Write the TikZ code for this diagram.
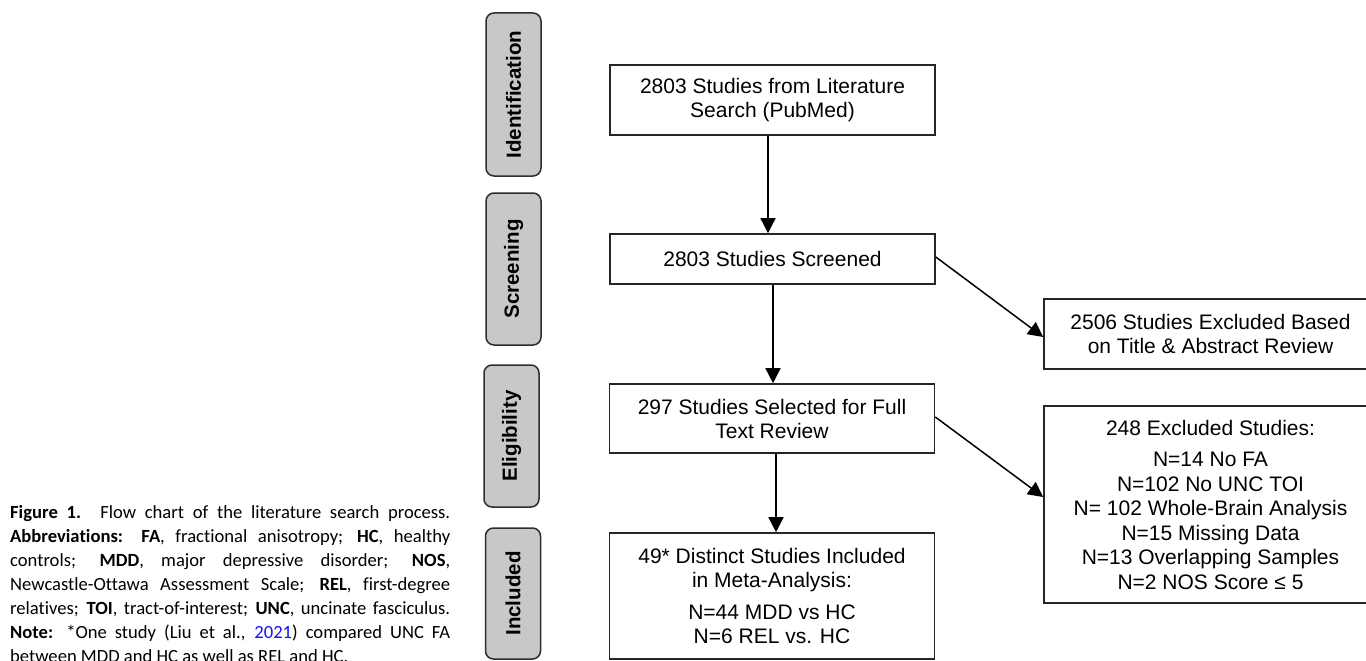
\documentclass[tikz,border=0pt]{standalone}
\usepackage{fontspec}
\setmainfont{Liberation Sans}
\newfontfamily\capfont[Ligatures={NoCommon}]{Carlito}
\usetikzlibrary{arrows.meta}
\definecolor{sidegray}{RGB}{200,200,200}
\definecolor{sideedge}{RGB}{45,45,45}
\definecolor{linkblue}{RGB}{20,20,240}
\tikzset{
  stagebox/.style={draw=sideedge, fill=sidegray, line width=1.5pt, rounded corners=8pt,
    rotate=90, minimum height=55pt, inner sep=0pt, font=\fontsize{20.5}{22}\selectfont\bfseries},
  flowbox/.style={draw=black!85, line width=1.6pt, minimum width=325pt, inner sep=0pt,
    align=center, font=\fontsize{21}{24}\selectfont},
  sidebox/.style={draw=black!85, line width=1.6pt, minimum width=333pt, inner sep=0pt,
    align=center, font=\fontsize{21}{24.5}\selectfont},
  flowarrow/.style={line width=1.5pt, -{Triangle[length=15pt,width=15pt]}},
}
\begin{document}
\begin{tikzpicture}[x=1pt,y=-1pt]
\useasboundingbox (0,0) rectangle (1366,661);
% stage labels
\node[stagebox, minimum width=163pt] (sid) at (513.5,94.5) {Identification};
\node[stagebox, minimum width=152pt] (sscr) at (513.5,269) {Screening};
\node[stagebox, minimum width=142pt] (selg) at (511.5,436) {Eligibility};
\node[stagebox, minimum width=131pt] (sinc) at (513,593.5) {Included};
% main boxes
\node[flowbox, minimum height=70pt] (b1) at (772.5,100) {2803 Studies from Literature\\Search (PubMed)};
\node[flowbox, minimum height=50pt] (b2) at (772.5,259) {2803 Studies Screened};
\node[flowbox, minimum height=69pt] (b3) at (772,418.5) {297 Studies Selected for Full\\Text Review};
\node[flowbox, minimum height=126pt] (b4) at (772,596) {49* Distinct Studies Included\\in Meta-Analysis:\\[8pt]N=44 MDD vs HC\\N=6 REL vs. HC};
% side boxes
\node[sidebox, minimum height=70pt] (r1) at (1210.5,334) {2506 Studies Excluded Based\\on Title \& Abstract Review};
\node[sidebox, minimum height=197pt] (r2) at (1210.5,504.5) {248 Excluded Studies:\\[7pt]N=14 No FA\\N=102 No UNC TOI\\N= 102 Whole-Brain Analysis\\N=15 Missing Data\\N=13 Overlapping Samples\\N=2 NOS Score ≤ 5};
% arrows
\draw[flowarrow] ([xshift=-4.5pt]b1.south) -- ([xshift=-4.5pt]b2.north);
\draw[flowarrow] ([xshift=0.5pt]b2.south) -- ([xshift=1pt]b3.north);
\draw[flowarrow] ([xshift=4pt]b3.south) -- ([xshift=4pt]b4.north);
\draw[flowarrow] ([yshift=2pt]b2.east) -- ([yshift=-3pt]r1.west);
\draw[flowarrow] ([yshift=1.5pt]b3.east) -- ([yshift=7.5pt]r2.west);
% caption
\node[anchor=north west, inner sep=0pt, text width=440pt, align=justify,
  font=\capfont\fontsize{18.6}{24}\selectfont] (cap) at (10,501) {\hyphenpenalty=10000\exhyphenpenalty=10000\strut
\textbf{Figure 1.} Flow chart of the literature search process.\linebreak
\textbf{Abbreviations: FA}, fractional anisotropy; \textbf{HC}, healthy\linebreak
controls; \textbf{MDD}, major depressive disorder; \textbf{NOS},\linebreak
Newcastle-Ottawa Assessment Scale; \textbf{REL}, first-degree\linebreak
relatives; \textbf{TOI}, tract-of-interest; \textbf{UNC}, uncinate fasciculus.\linebreak
\textbf{Note:} *One study (Liu et al., \textcolor{linkblue}{2021}) compared UNC FA\linebreak
between MDD and HC as well as REL and HC.};
\end{tikzpicture}
\end{document}
